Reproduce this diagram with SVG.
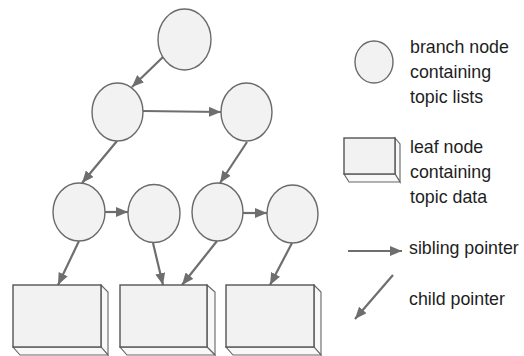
<svg xmlns="http://www.w3.org/2000/svg" width="524" height="356" viewBox="0 0 524 356">
<style>
.br{fill:#f2f2f2;stroke:#6a6a6a;stroke-width:1.4}
.face{fill:#f2f2f2;stroke:#555;stroke-width:1.4}
.side{fill:#f8f8f8;stroke:#666;stroke-width:1.1}
.ar{stroke:#6e6e6e;stroke-width:2.2;fill:none;marker-end:url(#ah)}
text{font-family:"Liberation Sans",Arial,sans-serif;font-size:17.8px;fill:#1e1e1e}
</style>
<defs>
<marker id="ah" markerUnits="userSpaceOnUse" markerWidth="13" markerHeight="10" refX="12" refY="5" orient="auto">
<path d="M0,0 L12,5 L0,10 Z" fill="#6e6e6e"/>
</marker>
</defs>
<rect width="524" height="356" fill="#fff"/>
<g id="connectors">
<line class="ar" x1="163" y1="57" x2="132" y2="87"/>
<line class="ar" x1="143" y1="111" x2="221" y2="112"/>
<line class="ar" x1="117" y1="141" x2="82" y2="183"/>
<line class="ar" x1="247" y1="142" x2="220" y2="183"/>
<line class="ar" x1="105" y1="212" x2="128" y2="212"/>
<line class="ar" x1="243" y1="213" x2="267" y2="213"/>
<line class="ar" x1="79" y1="241" x2="58" y2="285"/>
<line class="ar" x1="153" y1="243" x2="163" y2="285"/>
<line class="ar" x1="217" y1="241" x2="182" y2="285"/>
<line class="ar" x1="292" y1="243" x2="270" y2="285"/>
</g>
<g id="n-root"><ellipse class="br" cx="184.5" cy="39.5" rx="26.5" ry="30.5"/></g>
<g id="n-l2a"><ellipse class="br" cx="117.5" cy="112" rx="25.5" ry="29"/></g>
<g id="n-l2b"><ellipse class="br" cx="246.5" cy="112" rx="25.5" ry="29"/></g>
<g id="n-l3a"><ellipse class="br" cx="79" cy="212" rx="26" ry="29"/></g>
<g id="n-l3b"><ellipse class="br" cx="154" cy="213.5" rx="26" ry="29"/></g>
<g id="n-l3c"><ellipse class="br" cx="217.5" cy="212" rx="25.5" ry="29"/></g>
<g id="n-l3d"><ellipse class="br" cx="292.5" cy="214" rx="25.5" ry="29"/></g>
<g id="leaf1">
<path class="side" d="M101,285 L108,292 L108,355 L101,347 Z"/>
<path class="side" d="M13,347 L101,347 L108,355 L20,355 Z"/>
<rect class="face" x="13" y="285" width="88" height="62"/>
</g>
<g id="leaf2">
<path class="side" d="M207,285 L215,292 L215,355 L207,347 Z"/>
<path class="side" d="M120,347 L207,347 L215,355 L127,355 Z"/>
<rect class="face" x="120" y="285" width="87" height="62"/>
</g>
<g id="leaf3">
<path class="side" d="M314,285 L321,292 L321,355 L314,347 Z"/>
<path class="side" d="M226,347 L314,347 L321,355 L233,355 Z"/>
<rect class="face" x="226" y="285" width="88" height="62"/>
</g>
<g id="legend-branch">
<ellipse class="br" cx="374" cy="62" rx="19" ry="21"/>
<text x="410" y="53">branch node</text>
<text x="410" y="78">containing</text>
<text x="410" y="103">topic lists</text>
</g>
<g id="legend-leaf">
<path class="side" d="M395,138 L400,144 L400,182 L395,174 Z"/>
<path class="side" d="M344,174 L395,174 L400,182 L349,182 Z"/>
<rect class="face" x="344" y="138" width="51" height="36"/>
<text x="410" y="153">leaf node</text>
<text x="410" y="178">containing</text>
<text x="410" y="203">topic data</text>
</g>
<g id="legend-sibling">
<line class="ar" x1="348" y1="251" x2="402" y2="251"/>
<text x="409" y="254">sibling pointer</text>
</g>
<g id="legend-child">
<line class="ar" x1="393" y1="275" x2="355" y2="319"/>
<text x="409" y="305">child pointer</text>
</g>
</svg>
